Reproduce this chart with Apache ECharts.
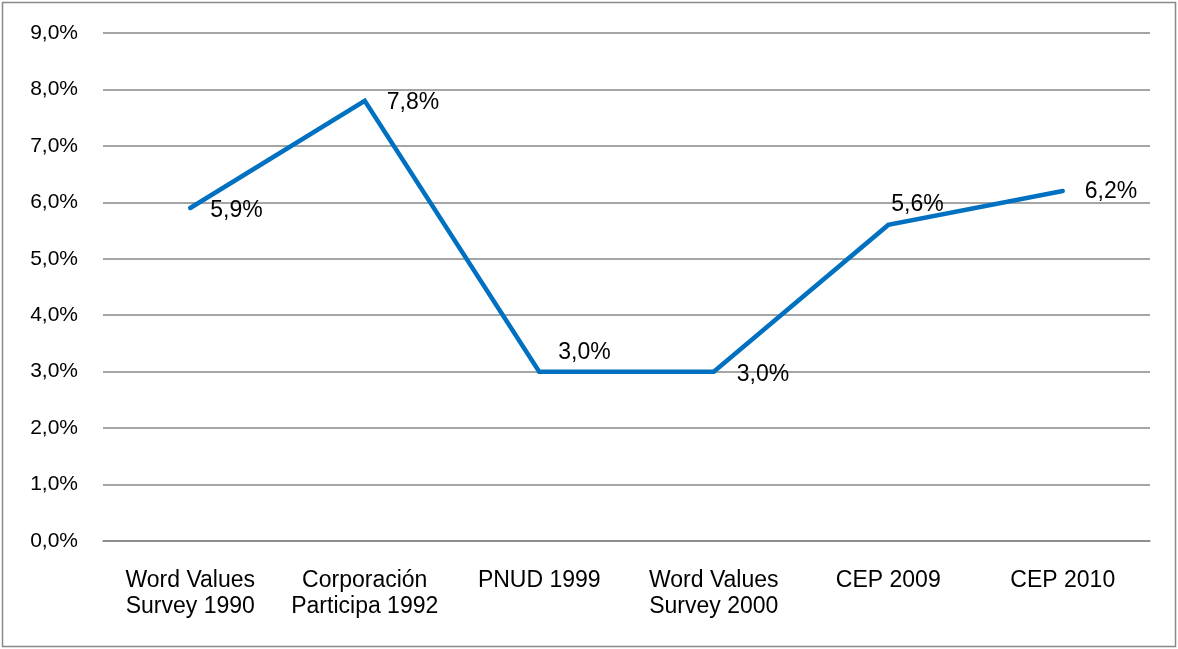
<!DOCTYPE html>
<html>
<head>
<meta charset="utf-8">
<script src="https://cdn.jsdelivr.net/npm/echarts@6/dist/echarts.min.js"></script>
<style>
  html, body { margin: 0; padding: 0; background: #fff; }
  #chart { width: 1178px; height: 649px; }
</style>
</head>
<body>
<div id="chart"></div>
<script>
const categories = [
  'Word Values\nSurvey 1990',
  'Corporación\nParticipa 1992',
  'PNUD 1999',
  'Word Values\nSurvey 2000',
  'CEP 2009',
  'CEP 2010'
];
const values = [5.9, 7.8, 3.0, 3.0, 5.6, 6.2];
// label nudges so they sit like in the original
const labelOffsets = [[15, 3], [17, 2], [14, -19], [18, 3], [-2, -20], [17, 1]];

const fmt = v => v.toFixed(1).replace('.', ',') + '%';

const chart = echarts.init(document.getElementById('chart'));
chart.setOption({
  animation: false,
  graphic: [{
    type: 'rect',
    shape: { x: 2.5, y: 2.5, width: 1173, height: 644 },
    style: { fill: 'none', stroke: '#898989', lineWidth: 1.5 }
  }],
  grid: { left: 103, right: 28, top: 33, bottom: 108 },
  xAxis: {
    type: 'category',
    data: categories,
    boundaryGap: true,
    axisLine: { show: true, lineStyle: { color: '#878787', width: 1.5 } },
    axisTick: { show: false },
    axisLabel: {
      color: '#000',
      fontFamily: 'Liberation Sans, Arial',
      fontSize: 23,
      lineHeight: 26,
      margin: 27,
      interval: 0
    }
  },
  yAxis: {
    type: 'value',
    min: 0,
    max: 9,
    interval: 1,
    axisLine: { show: false },
    axisTick: { show: false },
    splitLine: { lineStyle: { color: '#878787', width: 1.5 } },
    axisLabel: {
      color: '#000',
      fontFamily: 'Liberation Sans, Arial',
      fontSize: 21,
      margin: 25,
      formatter: fmt
    }
  },
  series: [{
    type: 'line',
    data: values.map((v, i) => ({
      value: v,
      label: { offset: labelOffsets[i] }
    })),
    symbol: 'circle',
    symbolSize: 0,
    showSymbol: true,
    itemStyle: { color: '#0070C0' },
    lineStyle: { color: '#0070C0', width: 4.5, cap: 'round', join: 'miter' },
    label: {
      show: true,
      position: 'right',
      color: '#000',
      opacity: 1,
      fontFamily: 'Liberation Sans, Arial',
      fontSize: 23,
      formatter: p => fmt(p.value)
    }
  }]
});
</script>
</body>
</html>
